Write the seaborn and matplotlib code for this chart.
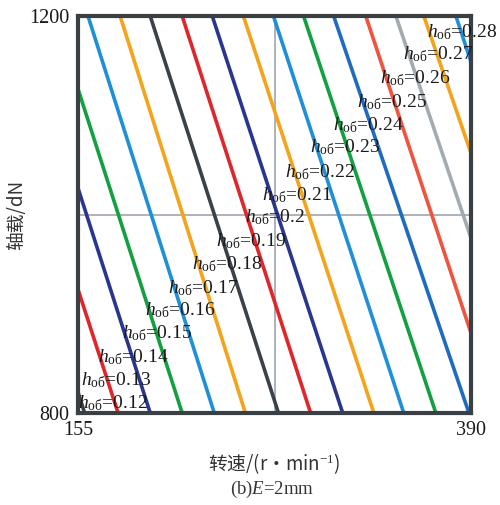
import numpy as np
import pandas as pd
import matplotlib
matplotlib.use("Agg")
import matplotlib.pyplot as plt
import seaborn as sns

# ---- data ----
h_values = ["0.12", "0.13", "0.14", "0.15", "0.16", "0.17", "0.18", "0.19", "0.2",
            "0.21", "0.22", "0.23", "0.24", "0.25", "0.26", "0.27", "0.28"]
# rotational speed where each h line reaches load 800 and load 1200
speed_at_800 = [159.0, 179.0, 198.2, 217.3, 236.5, 255.1, 274.9, 294.1, 313.3,
                331.9, 349.8, 369.0, 388.8, 405.9, 425.4, 443.5, 459.0]
speed_at_1200 = [83.0, 102.0, 122.0, 141.0, 161.0, 180.2, 198.2, 217.3, 235.3,
                 253.9, 271.9, 289.9, 307.9, 327.1, 345.1, 361.8, 381.0]
line_colors = ["#3a4148", "#e0262a", "#2a3590", "#12a040", "#1e8fd8", "#f5a31a",
               "#3a4148", "#e0262a", "#2a3590", "#f5a31a", "#1e8fd8", "#12a040",
               "#1f6bbf", "#f0543e", "#a3abb2", "#f5a31a", "#1e8fd8"]
# label anchor (left edge, vertical centre) in data units
label_x = [155.0, 156.8, 167.0, 181.3, 195.1, 208.8, 223.2, 237.5, 254.9,
           265.0, 278.8, 293.7, 307.5, 321.8, 335.6, 349.3, 363.7]
label_y = [810.1, 833.2, 856.4, 880.6, 903.8, 925.9, 950.1, 973.3, 997.5,
           1019.6, 1042.8, 1068.0, 1090.2, 1113.4, 1137.5, 1161.7, 1183.9]
x_ticks = [155, 390]
y_ticks = [800, 1200]

rows = []
for h, s0, s1 in zip(h_values, speed_at_800, speed_at_1200):
    rows.append({"h": h, "speed": s0, "load": 800})
    rows.append({"h": h, "speed": s1, "load": 1200})
df = pd.DataFrame(rows)

sns.set_style("white")
plt.rcParams["font.family"] = ["Liberation Serif", "Noto Sans CJK SC", "DejaVu Sans"]
plt.rcParams["mathtext.fontset"] = "custom"
plt.rcParams["mathtext.rm"] = "Liberation Serif"
plt.rcParams["mathtext.it"] = "Liberation Serif:italic"

fig = plt.figure(figsize=(5.0, 5.05), dpi=100)
ax = fig.add_axes([0.156, 0.182, 0.786, 0.786])

ax.axvline((x_ticks[0] + x_ticks[1]) / 2, color="#a5adb5", lw=1.3, zorder=1)
ax.axhline((y_ticks[0] + y_ticks[1]) / 2, color="#a5adb5", lw=1.3, zorder=1)

sns.lineplot(data=df, x="speed", y="load", hue="h", units="h", estimator=None,
             sort=False, palette=dict(zip(h_values, line_colors)),
             linewidth=2.6, legend=False, ax=ax, zorder=2)

ax.set_xlim(x_ticks[0], x_ticks[1])
ax.set_ylim(y_ticks[0], y_ticks[1])
ax.set_xticks(x_ticks)
ax.set_yticks(y_ticks)
ax.tick_params(length=0, labelsize=14.5, pad=6, labelcolor="#1a1a1a")
for lab in ax.get_xticklabels() + ax.get_yticklabels():
    lab.set_fontfamily("Liberation Serif")
for sp in ax.spines.values():
    sp.set_color("#3a3f44")
    sp.set_linewidth(3.0)
    sp.set_zorder(3)

for h, lx, ly in zip(h_values, label_x, label_y):
    ax.text(lx, ly, r"$h_{\mathrm{oб}}$=" + h, fontsize=14, ha="left", va="center",
            color="#1a1a1a", clip_on=False, zorder=4)

ax.set_xlabel("转速/(r・min$^{-1}$)", fontsize=13.5,
              fontfamily=["Noto Sans CJK SC", "DejaVu Sans"], labelpad=8, color="#333333")
ax.set_ylabel("轴载/dN", fontsize=13.5,
              fontfamily=["Noto Sans CJK SC", "DejaVu Sans"], labelpad=4, color="#333333")
ax.yaxis.set_label_coords(-0.13, 0.5)

fig.text(0.545, 0.030, r"(b)$\mathit{E}$=2mm", fontsize=13.5, ha="center", va="center",
         color="#333333")

fig.savefig("out.png", dpi=100)
